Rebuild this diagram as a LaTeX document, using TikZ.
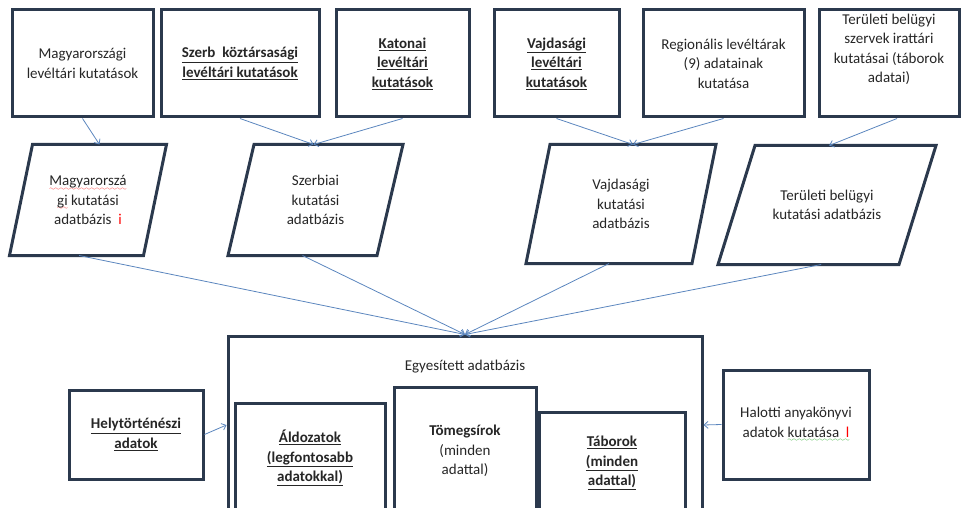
\documentclass[tikz,border=0pt]{standalone}
\usepackage{fontspec}
\setmainfont{Carlito}
\usepackage{tikz}
\usetikzlibrary{arrows.meta, calc}
\definecolor{boxline}{HTML}{2B394D}
\definecolor{arrowblue}{HTML}{5B86BE}
\definecolor{txtgray}{HTML}{262626}
\newcommand{\txt}{\fontsize{15}{19.5}\selectfont\color{txtgray}}
\newcommand{\bu}[1]{\underline{\textbf{#1}}}
\font\wavefont=lasy6
\newcommand{\wave}[2]{\leavevmode\setbox0\hbox{#2}%
    \rlap{\textcolor{#1}{\lower4.5pt\hbox to \wd0{\xleaders\hbox{\wavefont\char58}\hfill}}}\box0{}}
% parallelogram: name, centre, side, height, slant, text
\newcommand{\para}[6]{%
    \node[paratext] (#1) at (#2) {#6};
    \coordinate (#1-tl) at ($(#1.center)+(-#3/2+#5/2, -#4/2)$);
    \coordinate (#1-tr) at ($(#1.center)+(#3/2+#5/2, -#4/2)$);
    \coordinate (#1-br) at ($(#1.center)+(#3/2-#5/2, #4/2)$);
    \coordinate (#1-bl) at ($(#1.center)+(-#3/2-#5/2, #4/2)$);
    \draw[paraline] (#1-tl) -- (#1-tr) -- (#1-br) -- (#1-bl) -- cycle;
}

\begin{document}
\begin{tikzpicture}[x=1pt, y=-1pt,
    box/.style={draw=boxline, line width=3pt, rectangle, align=center, font=\txt, inner sep=2pt},
    paratext/.style={align=center, font=\txt, inner sep=2pt},
    paraline/.style={draw=boxline, line width=3pt, line join=miter},
    arr/.style={draw=arrowblue, line width=0.8pt, -{Straight Barb[length=4pt,width=7pt]}}]

\useasboundingbox (0,0) rectangle (970,508);
\clip (0,0) rectangle (970,508);

% archive research
\node[box, minimum width=141pt, minimum height=107pt] (m1) at (82.5,63.5)
    {Magyarországi\\levéltári kutatások};
\node[box, minimum width=158pt, minimum height=107pt] (m2) at (240,63.5)
    {\bu{Szerb\ \ köztársasági}\\\bu{levéltári kutatások}};
\node[box, minimum width=133pt, minimum height=107pt] (m3) at (402.5,63.5)
    {\bu{Katonai}\\\bu{levéltári}\\\bu{kutatások}};
\node[box, minimum width=125pt, minimum height=107pt] (m4) at (556.5,63.5)
    {\bu{Vajdasági}\\\bu{levéltári}\\\bu{kutatások}};
\node[box, minimum width=161pt, minimum height=107pt] (m5) at (723.5,63.5)
    {Regionális levéltárak\\(9) adatainak\\kutatása};
\node[box, minimum width=140pt, minimum height=107pt, text depth=30pt] (m6) at (889,63.5)
    {Területi belügyi\\szervek irattári\\kutatásai (táborok\\adatai)};

% research databases
\para{p1}{88,200}{134}{111}{23}
    {\wave{red}{Magyarorszá}\\\wave{red}{gi} kutatási\\adatbázis\ \ \textcolor{red}{i}}
\para{p2}{315.5,200}{149}{111}{26}{Szerbiai\\kutatási\\adatbázis}
\para{p3}{621,204}{166}{119}{24}{Vajdasági\\kutatási\\adatbázis}
\para{p4}{827,205}{181}{119}{37}{Területi belügyi\\kutatási adatbázis}

% unified database
\node[box, minimum width=474pt, minimum height=178pt] (db) at (465,425) {};
\node[font=\txt] (dbtitle) at (465,367) {Egyesített adatbázis};
\node[box, minimum width=150pt, minimum height=110pt] (d1) at (310,458)
    {\bu{Áldozatok}\\\bu{(legfontosabb}\\\bu{adatokkal)}};
\node[box, minimum width=142pt, minimum height=128pt] (d2) at (465,451)
    {\textbf{Tömegsírok}\\(minden\\adattal)};
\node[box, minimum width=146pt, minimum height=102pt] (d3) at (612,463)
    {\bu{Táborok}\\\bu{(minden}\\\bu{adattal)}};

% side sources
\node[box, minimum width=134pt, minimum height=89pt] (h) at (136,434.5)
    {\bu{Helytörténészi}\\\bu{adatok}};
\node[box, minimum width=146pt, minimum height=109pt] (ha) at (796,424.5)
    {Halotti anyakönyvi\\adatok \wave{green!60!black}{kutatása\ \ \textcolor{red}{l}}};

% connectors
\draw[arr] (m1.south) -- ($(p1-tl)!0.5!(p1-tr)$);
\draw[arr] (m2.south) -- ($(p2-tl)!0.4!(p2-tr)$);
\draw[arr] (m3.south) -- ($(p2-tl)!0.4!(p2-tr)$);
\draw[arr] (m4.south) -- ($(p3-tl)!0.5!(p3-tr)$);
\draw[arr] (m5.south) -- ($(p3-tl)!0.5!(p3-tr)$);
\draw[arr] ($(m6.south)+(8,0)$) -- ($(p4-tl)!0.41!(p4-tr)$);
\draw[arr] ($(p1-bl)!0.52!(p1-br)$) -- (db.north);
\draw[arr] ($(p2-bl)!0.5!(p2-br)$) -- (db.north);
\draw[arr] ($(p3-bl)!0.5!(p3-br)$) -- (db.north);
\draw[arr] ($(p4-bl)!0.57!(p4-br)$) -- (db.north);
\draw[arr] (h.east) -- (db.west);
\draw[arr] (ha.west) -- (db.east);
\end{tikzpicture}
\end{document}
